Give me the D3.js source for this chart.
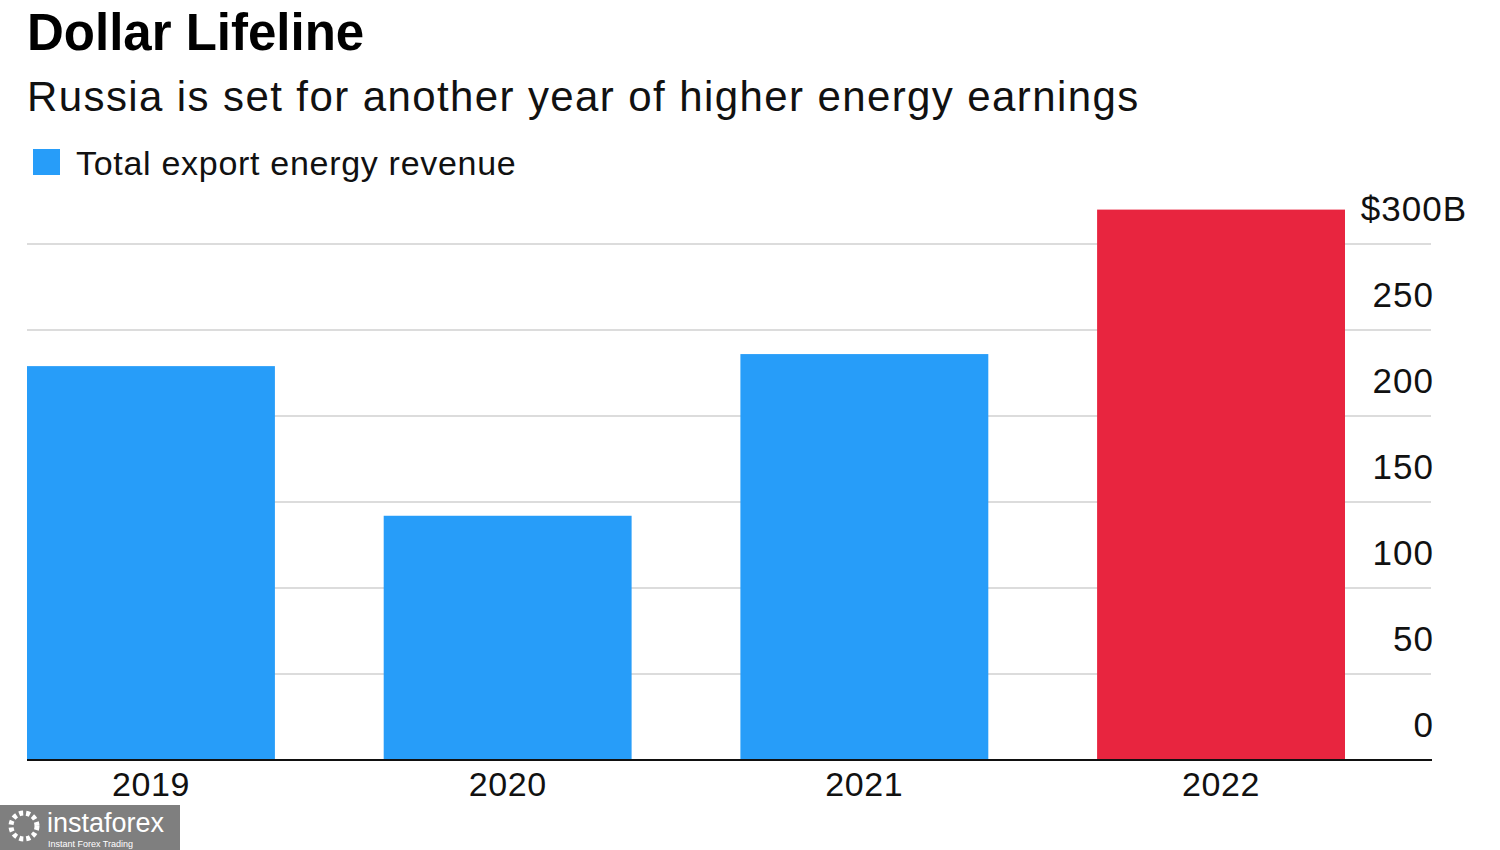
<!DOCTYPE html>
<html><head><meta charset="utf-8">
<script src="https://cdn.jsdelivr.net/npm/d3@7"></script>
<style>
body{margin:0;background:#fff;}
text{font-family:"Liberation Sans",Arial,sans-serif;}
</style></head>
<body>
<svg id="chart" width="1500" height="850"></svg>
<script>
const years = ["2019","2020","2021","2022"];
const revenue = [229, 142, 236, 320];
const barColors = ["#279df9","#279df9","#279df9","#e8253f"];
const yTicks = [0,50,100,150,200,250,300];
const title = "Dollar Lifeline";
const subtitle = "Russia is set for another year of higher energy earnings";
const legendLabel = "Total export energy revenue";

const svg = d3.select("#chart");
svg.append("rect").attr("width",1500).attr("height",850).attr("fill","#fff");

const x = d3.scaleBand().domain(years).range([27,1345]).paddingInner(0.305).paddingOuter(0);
const y = d3.scaleLinear().domain([0,300]).range([760,244]);

// title etc
svg.append("text").attr("x",27).attr("y",50).attr("font-size",51).attr("font-weight","bold")
  .attr("fill","#000").text(title);
svg.append("text").attr("x",27).attr("y",111).attr("font-size",42).attr("letter-spacing",1.4)
  .attr("fill","#111").text(subtitle);
svg.append("rect").attr("x",33).attr("y",149).attr("width",27).attr("height",26).attr("fill",barColors[0]);
svg.append("text").attr("x",76).attr("y",175).attr("font-size",34).attr("letter-spacing",0.7)
  .attr("fill","#111").text(legendLabel);

// gridlines
svg.append("g").selectAll("line").data(yTicks.filter(d=>d>0)).join("line")
  .attr("x1",27).attr("x2",1431).attr("y1",d=>y(d)).attr("y2",d=>y(d))
  .attr("stroke","#dcdcdc").attr("stroke-width",2);

// bars
svg.append("g").selectAll("rect").data(years).join("rect")
  .attr("x",d=>x(d)).attr("width",x.bandwidth())
  .attr("y",(d,i)=>y(revenue[i])).attr("height",(d,i)=>y(0)-y(revenue[i]))
  .attr("fill",(d,i)=>barColors[i]);

// baseline
svg.append("line").attr("x1",27).attr("x2",1432).attr("y1",y(0)).attr("y2",y(0))
  .attr("stroke","#111").attr("stroke-width",2);

// y labels
svg.append("g").selectAll("text").data(yTicks).join("text")
  .attr("x",d=>d===300 ? 1467 : 1434).attr("y",d=>y(d)-23).attr("text-anchor","end")
  .attr("font-size",35).attr("letter-spacing",1).attr("fill","#111")
  .text(d=>d===300 ? "$"+d+"B" : d);

// x labels
svg.append("g").selectAll("text").data(years).join("text")
  .attr("x",d=>x(d)+x.bandwidth()/2).attr("y",796).attr("text-anchor","middle")
  .attr("font-size",34).attr("letter-spacing",0.6).attr("fill","#111").text(d=>d);

// watermark
const wm = svg.append("g");
wm.append("rect").attr("x",0).attr("y",805).attr("width",180).attr("height",45).attr("fill","#7f7f7f");
wm.append("circle").attr("cx",24).attr("cy",826).attr("r",13).attr("fill","none").attr("stroke","#fff").attr("stroke-width",5).attr("stroke-dasharray","4 3");
wm.append("text").attr("x",47).attr("y",832).attr("font-size",27).attr("fill","#fff").text("instaforex");
wm.append("text").attr("x",48).attr("y",847).attr("font-size",9).attr("fill","#fff").text("Instant Forex Trading");
</script>
</body></html>
